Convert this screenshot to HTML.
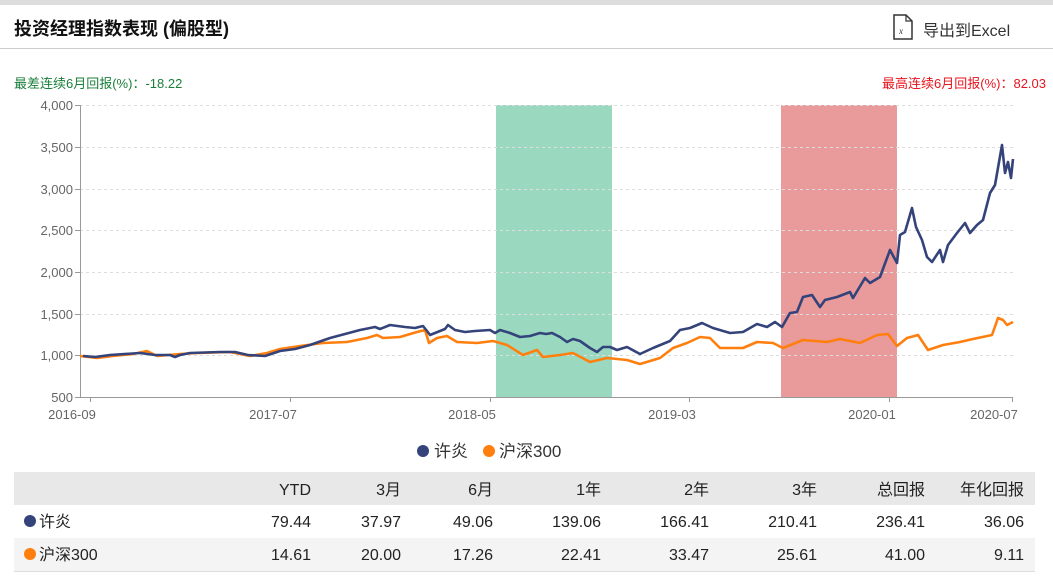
<!DOCTYPE html>
<html><head><meta charset="utf-8"><style>
body{margin:0;width:1053px;height:581px;background:#fff;font-family:"Liberation Sans","Noto Sans CJK SC",sans-serif;position:relative;overflow:hidden}
.a{position:absolute;white-space:nowrap}
</style></head><body>
<div class="a" style="left:0;top:0;width:1053px;height:5px;background:#ddd"></div>
<div class="a" style="left:14px;top:15px;font-size:18px;font-weight:bold;color:#111">投资经理指数表现 (偏股型)</div>
<svg class="a" style="left:892px;top:14px" width="22" height="26"><path d="M2 1h12l6 6v18H2z" fill="#fff" stroke="#333" stroke-width="1.5"/><path d="M14 1v6h6" fill="none" stroke="#333" stroke-width="1.2"/><text x="7" y="20" font-size="9" font-style="italic" fill="#333" font-family="Liberation Serif">x</text></svg>
<div class="a" style="left:923px;top:17px;font-size:16px;color:#333">导出到Excel</div>
<div class="a" style="left:0;top:48px;width:1053px;height:1px;background:#ccc"></div>
<div class="a" style="left:14px;top:73px;font-size:13px;color:#1a7f3a">最差连续6月回报(%)：-18.22</div>
<div class="a" style="right:7px;top:73px;font-size:13px;color:#e8141e">最高连续6月回报(%)：82.03</div>
<svg class="a" style="left:0;top:0" width="1053" height="581" font-family="Liberation Sans" font-size="13" fill="#666">
<rect x="496" y="105" width="116" height="292" fill="#9ad9c0"/>
<rect x="781" y="105" width="116" height="292" fill="#e99a9a"/>
<g stroke="#ddd" stroke-dasharray="3,3">
<line x1="80" x2="1013" y1="105.5" y2="105.5"/><line x1="80" x2="1013" y1="147.5" y2="147.5"/><line x1="80" x2="1013" y1="189.5" y2="189.5"/><line x1="80" x2="1013" y1="230.5" y2="230.5"/><line x1="80" x2="1013" y1="272.5" y2="272.5"/><line x1="80" x2="1013" y1="314.5" y2="314.5"/><line x1="80" x2="1013" y1="355.5" y2="355.5"/></g>
<g stroke="#999"><line x1="80.5" y1="105" x2="80.5" y2="397"/><line x1="80" y1="397.5" x2="1013" y2="397.5"/>
<line x1="75" x2="80" y1="105.5" y2="105.5"/><line x1="75" x2="80" y1="147.5" y2="147.5"/><line x1="75" x2="80" y1="189.5" y2="189.5"/><line x1="75" x2="80" y1="230.5" y2="230.5"/><line x1="75" x2="80" y1="272.5" y2="272.5"/><line x1="75" x2="80" y1="314.5" y2="314.5"/><line x1="75" x2="80" y1="355.5" y2="355.5"/><line x1="75" x2="80" y1="397.5" y2="397.5"/>
<line x1="90.5" x2="90.5" y1="397" y2="402"/><line x1="290.5" x2="290.5" y1="397" y2="402"/><line x1="490.5" x2="490.5" y1="397" y2="402"/><line x1="689.5" x2="689.5" y1="397" y2="402"/><line x1="889.5" x2="889.5" y1="397" y2="402"/><line x1="1012.5" x2="1012.5" y1="397" y2="402"/></g>
<g text-anchor="end"><text x="73" y="110">4,000</text><text x="73" y="152">3,500</text><text x="73" y="194">3,000</text><text x="73" y="235">2,500</text><text x="73" y="277">2,000</text><text x="73" y="319">1,500</text><text x="73" y="360">1,000</text><text x="73" y="402">500</text></g>
<g text-anchor="middle"><text x="72" y="419">2016-09</text><text x="273" y="419">2017-07</text><text x="472" y="419">2018-05</text><text x="672" y="419">2019-03</text><text x="872" y="419">2020-01</text><text x="994" y="419">2020-07</text></g>
<polyline fill="none" stroke="#ff7f0e" stroke-width="2.6" stroke-linejoin="round" points="80,356 97,358 113,356 133,354 147,351 157,356 180,354 197,353 230,352 250,356 267,353 280,349 300,346 323,343 347,342 367,338 377,335 383,338 400,337 417,332 425,330 429,343 437,338 447,336 457,342 477,343 493,341 507,345 523,355 537,350 543,357 560,355 573,353 590,362 607,358 627,360 640,364 660,358 673,348 687,343 700,337 710,338 720,348 743,348 757,342 773,343 783,348 803,340 827,342 840,339 860,343 877,335 888,334 897,346 907,338 918,335 928,350 943,345 960,342 973,339 992,335 998,318 1003,320 1007,325 1013,322"/>
<polyline fill="none" stroke="#34437a" stroke-width="2.6" stroke-linejoin="round" points="83,356 95,357 110,355 140,353 155,355 170,355 175,357 180,355 190,353 220,352 235,352 248,355 265,356 280,351 295,349 310,345 330,338 345,334 360,330 375,327 380,329 390,325 405,327 415,328 423,326 427,331 430,335 435,333 445,329 448,325 455,330 465,332 475,331 490,330 495,333 500,330 510,333 520,337 530,336 540,333 546,334 552,333 560,337 567,342 573,339 580,341 590,348 597,352 603,347 610,347 617,350 627,347 640,354 653,348 670,341 680,330 690,328 702,323 713,328 730,333 743,332 757,324 767,327 775,322 782,327 790,313 797,312 803,297 812,295 820,307 825,300 837,297 850,292 853,298 865,278 870,283 880,277 890,250 897,263 900,235 905,232 912,208 916,227 922,240 927,257 932,262 940,250 943,262 948,245 957,233 965,223 970,233 977,225 983,220 990,193 995,185 1002,145 1005,173 1008,162 1011,178 1013,159"/>
<circle cx="423" cy="451" r="6" fill="#34437a"/><text x="434" y="457" font-size="17" fill="#333" font-family="Liberation Sans,Noto Sans CJK SC">许炎</text>
<circle cx="489" cy="451" r="6" fill="#ff7f0e"/><text x="499" y="457" font-size="17" fill="#333" font-family="Liberation Sans,Noto Sans CJK SC">沪深300</text>
<rect x="14" y="472" width="1021" height="33" fill="#e8e8e8"/>
<rect x="14" y="538" width="1021" height="33" fill="#f4f4f4"/>
<rect x="14" y="571" width="1021" height="1" fill="#ddd"/>
<g font-size="16" fill="#222" text-anchor="end" font-family="Liberation Sans,Noto Sans CJK SC">
<text y="495"><tspan x="311">YTD</tspan><tspan x="401">3月</tspan><tspan x="493">6月</tspan><tspan x="601">1年</tspan><tspan x="709">2年</tspan><tspan x="817">3年</tspan><tspan x="925">总回报</tspan><tspan x="1024">年化回报</tspan></text>
<text y="527"><tspan x="311">79.44</tspan><tspan x="401">37.97</tspan><tspan x="493">49.06</tspan><tspan x="601">139.06</tspan><tspan x="709">166.41</tspan><tspan x="817">210.41</tspan><tspan x="925">236.41</tspan><tspan x="1024">36.06</tspan></text>
<text y="560"><tspan x="311">14.61</tspan><tspan x="401">20.00</tspan><tspan x="493">17.26</tspan><tspan x="601">22.41</tspan><tspan x="709">33.47</tspan><tspan x="817">25.61</tspan><tspan x="925">41.00</tspan><tspan x="1024">9.11</tspan></text>
</g>
<circle cx="30" cy="521" r="6" fill="#34437a"/><text x="39" y="527" font-size="16" fill="#222" font-family="Liberation Sans,Noto Sans CJK SC">许炎</text>
<circle cx="30" cy="554" r="6" fill="#ff7f0e"/><text x="39" y="560" font-size="16" fill="#222" font-family="Liberation Sans,Noto Sans CJK SC">沪深300</text>
</svg>
</body></html>
